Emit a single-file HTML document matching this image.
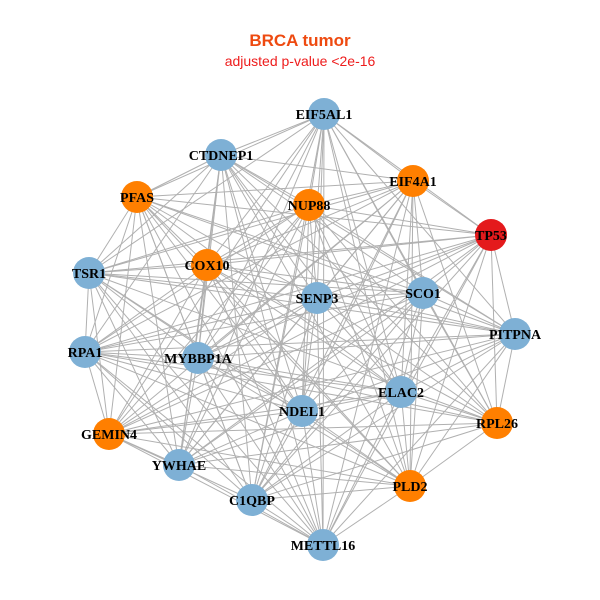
<!DOCTYPE html>
<html><head><meta charset="utf-8"><style>
html,body{margin:0;padding:0;background:#fff;width:600px;height:600px;overflow:hidden}
</style></head><body>
<svg id="s" width="600" height="600" xmlns="http://www.w3.org/2000/svg">
<rect width="600" height="600" fill="#fff"/>
<text x="300" y="46" text-anchor="middle" font-family="Liberation Sans, sans-serif" font-size="17" font-weight="bold" fill="#ee4a10">BRCA tumor</text>
<text x="300" y="66" text-anchor="middle" font-family="Liberation Sans, sans-serif" font-size="14" fill="#ee1c1c">adjusted p-value &lt;2e-16</text>
<g id="e" stroke="#b0b0b0" stroke-width="1"></g>
<g id="n"></g>
<g id="t" font-family="Liberation Serif, serif" font-size="14" font-weight="bold" fill="#000" text-anchor="middle"></g>
</svg>
<script>
var B="#7eb0d5",O="#ff7f00",R="#e41a1c";
var N=[["EIF5AL1",324,114,B],["CTDNEP1",221,155,B],["EIF4A1",413,181,O],["PFAS",137,197,O],["NUP88",309,205,O],["TP53",491,235,R],["COX10",207,265,O],["TSR1",89,273,B],["SENP3",317,298,B],["SCO1",423,293,B],["PITPNA",515,334,B],["RPA1",85,352,B],["MYBBP1A",198,358,B],["ELAC2",401,392,B],["NDEL1",302,411,B],["RPL26",497,423,O],["GEMIN4",109,434,O],["YWHAE",179,465,B],["PLD2",410,486,O],["C1QBP",252,500,B],["METTL16",323,545,B]];
var ns="http://www.w3.org/2000/svg",e=document.getElementById("e"),n=document.getElementById("n"),t=document.getElementById("t");
for(var i=0;i<N.length;i++)for(var j=i+1;j<N.length;j++){
 if((i*7+j*3)%11==0)continue;
 var l=document.createElementNS(ns,"line");
 l.setAttribute("x1",N[i][1]);l.setAttribute("y1",N[i][2]);l.setAttribute("x2",N[j][1]);l.setAttribute("y2",N[j][2]);e.appendChild(l);}
N.forEach(function(d){
 var c=document.createElementNS(ns,"circle");c.setAttribute("cx",d[1]);c.setAttribute("cy",d[2]);c.setAttribute("r",16);c.setAttribute("fill",d[3]);n.appendChild(c);
 var x=document.createElementNS(ns,"text");x.setAttribute("x",d[1]);x.setAttribute("y",d[2]+5);x.textContent=d[0];t.appendChild(x);});
</script>
</body></html>
